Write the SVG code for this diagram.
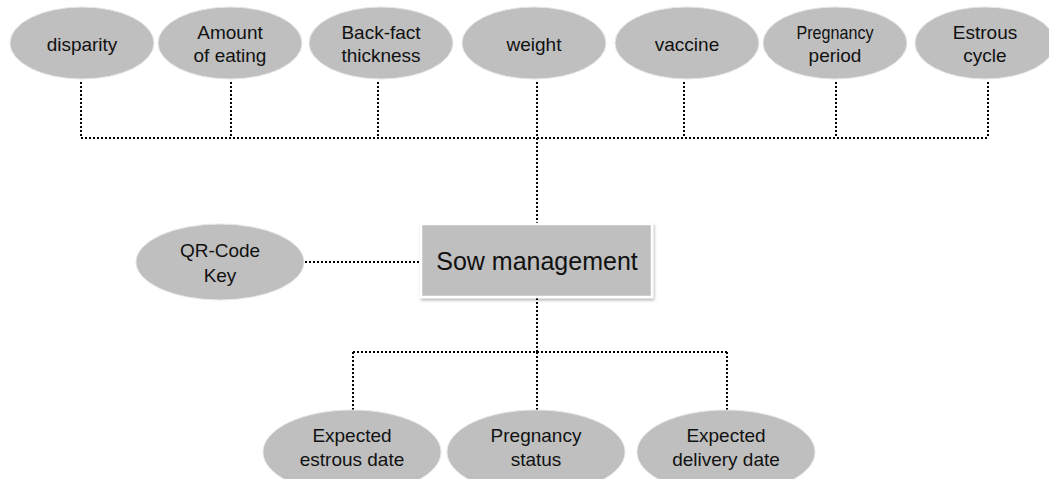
<svg xmlns="http://www.w3.org/2000/svg" width="1049" height="479" viewBox="0 0 1049 479">
<defs>
<filter id="sh" x="-10%" y="-10%" width="125%" height="135%">
<feDropShadow dx="1" dy="2" stdDeviation="1.5" flood-color="#000" flood-opacity="0.3"/>
</filter>
<style>
.el{fill:#bfbfbf;stroke:#e6e6e6;stroke-width:1}
.box{fill:#bfbfbf;stroke:#ffffff;stroke-width:2.5}
.t{font-family:"Liberation Sans",Arial,sans-serif;font-size:19px;fill:#111111;text-anchor:middle}
.big{font-size:25px}
.c{fill:none;stroke:#000;stroke-width:2;stroke-dasharray:2 2}
</style>
</defs>
<rect width="1049" height="479" fill="#ffffff"/>
<g id="connectors">
<path class="c" d="M81 82V138M231 82V138M378 82V138M537 82V224M684 82V138M836 82V138M988 82V138"/>
<path class="c" d="M81 138H988"/>
<path class="c" d="M305 262H420"/>
<path class="c" d="M537 298V352M353 352H727M353 352V410M537 352V410M727 352V410"/>
</g>
<g id="disparity"><ellipse class="el" cx="82" cy="43" rx="72" ry="36"/><text class="t" x="82" y="51">disparity</text></g>
<g id="amount"><ellipse class="el" cx="230" cy="43" rx="72" ry="36"/><text class="t" x="230" y="39">Amount</text><text class="t" x="230" y="62">of eating</text></g>
<g id="backfact"><ellipse class="el" cx="381" cy="43" rx="72" ry="36"/><text class="t" x="381" y="39">Back-fact</text><text class="t" x="381" y="62">thickness</text></g>
<g id="weight"><ellipse class="el" cx="534" cy="43" rx="72" ry="36"/><text class="t" x="534" y="51">weight</text></g>
<g id="vaccine"><ellipse class="el" cx="687" cy="43" rx="72" ry="36"/><text class="t" x="687" y="51">vaccine</text></g>
<g id="pregperiod"><ellipse class="el" cx="835" cy="43" rx="72" ry="36"/><text class="t" x="835" y="39" textLength="77" lengthAdjust="spacingAndGlyphs">Pregnancy</text><text class="t" x="835" y="62">period</text></g>
<g id="estrous"><ellipse class="el" cx="985" cy="43" rx="70" ry="36"/><text class="t" x="985" y="39">Estrous</text><text class="t" x="985" y="62">cycle</text></g>
<g id="qr"><ellipse class="el" cx="220" cy="262" rx="84" ry="38"/><text class="t" x="220" y="257">QR-Code</text><text class="t" x="220" y="282">Key</text></g>
<g id="sow"><rect class="box" x="421" y="224" width="231" height="73" filter="url(#sh)"/><text class="t big" x="537" y="270">Sow management</text></g>
<g id="estrousdate"><ellipse class="el" cx="352" cy="452" rx="89" ry="42"/><text class="t" x="352" y="442">Expected</text><text class="t" x="352" y="466">estrous date</text></g>
<g id="pregstatus"><ellipse class="el" cx="536" cy="452" rx="89" ry="42"/><text class="t" x="536" y="442">Pregnancy</text><text class="t" x="536" y="466">status</text></g>
<g id="deliverydate"><ellipse class="el" cx="726" cy="452" rx="89" ry="42"/><text class="t" x="726" y="442">Expected</text><text class="t" x="726" y="466">delivery date</text></g>
</svg>
